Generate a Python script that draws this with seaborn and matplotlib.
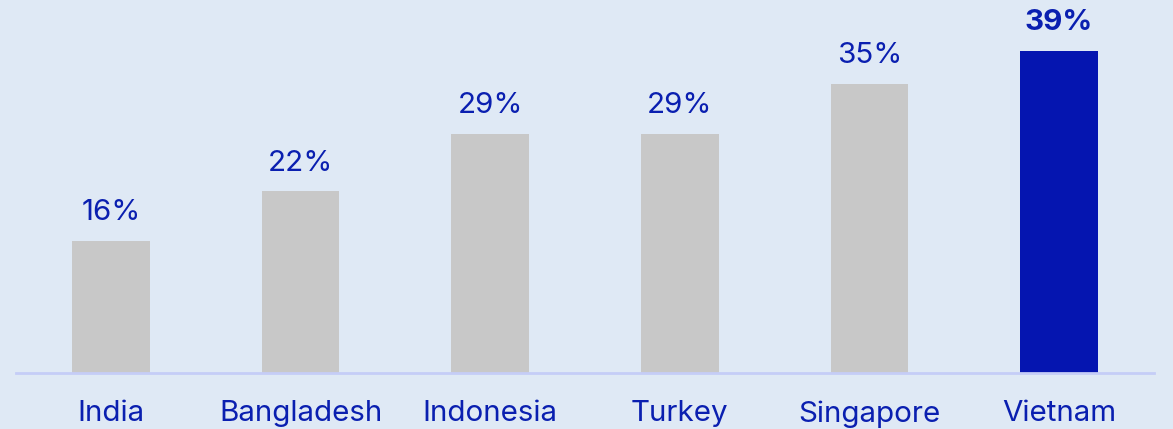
import matplotlib.pyplot as plt
import pandas as pd
import seaborn as sns

countries = ["India", "Bangladesh", "Indonesia", "Turkey", "Singapore", "Vietnam"]
shares = [16, 22, 29, 29, 35, 39]
highlight = "Vietnam"

bg = "#dfe9f5"
grey = "#c8c8c8"
blue = "#0515b0"
text_blue = "#0a1fb0"

df = pd.DataFrame({"country": countries, "share": shares})
palette = {c: (blue if c == highlight else grey) for c in countries}

sns.set_style("white")
plt.rcParams["font.family"] = ["Inter", "DejaVu Sans"]

fig = plt.figure(figsize=(11.73, 4.29), dpi=100, facecolor=bg)
ax = fig.add_axes([16 / 1173, 56 / 429, 1138 / 1173, 373 / 429])
ax.set_facecolor(bg)

sns.barplot(data=df, x="country", y="share", hue="country", palette=palette,
            width=0.41, legend=False, ax=ax, saturation=1, edgecolor="none",
            linewidth=0)

ax.set_xlim(-0.5, 5.5)
ax.set_ylim(0, 45.18)

# value labels above bars, highlighted one in bold
for i, (c, v) in enumerate(zip(countries, shares)):
    bold = c == highlight
    ax.text(i, v + 2.5, f"{v}%", ha="center", va="baseline", fontsize=21.3,
            color=text_blue, fontweight="bold" if bold else "normal")

for s in ["top", "right", "left"]:
    ax.spines[s].set_visible(False)
ax.spines["bottom"].set_color("#c5cdf7")
ax.spines["bottom"].set_linewidth(2)

ax.set_yticks([])
ax.set_xlabel("")
ax.set_ylabel("")
ax.tick_params(axis="x", length=0, pad=19.5, labelsize=21.3, labelcolor=text_blue)

fig.savefig("out.png", dpi=100, facecolor=bg)
